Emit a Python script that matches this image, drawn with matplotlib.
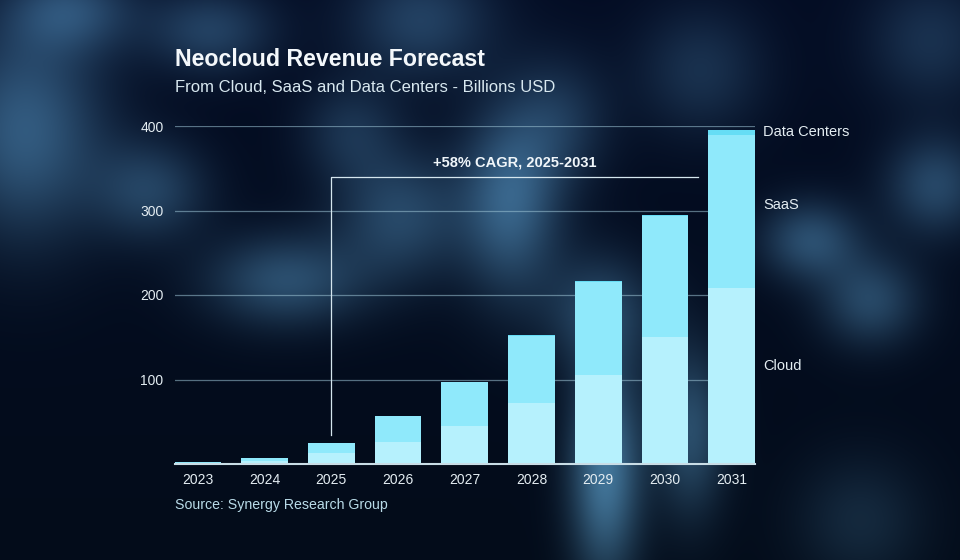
import matplotlib.pyplot as plt
import numpy as np

# ~~~~~~~~~~~~~~
# DATA
# ~~~~~~~~~~~~~~
years = ['2023', '2024', '2025', '2026', '2027', '2028', '2029', '2030', '2031']
cloud = [1.2, 4, 13, 26, 45, 72, 105, 150, 208]
saas = [0.8, 3.5, 12, 31, 51.5, 80, 110, 143, 181]
data_centers = [0, 0, 0, 0, 0, 0.5, 1, 1.5, 6]
series_names = ['Cloud', 'SaaS', 'Data Centers']
cagr_text = '+58% CAGR, 2025-2031'

# ~~~~~~~~~~~~~~
# BACKGROUND (soft blurred glow)
# ~~~~~~~~~~~~~~
W, H = 960, 560
yy, xx = np.mgrid[0:H, 0:W]
base = np.array([3, 12, 26]) / 255.0
img = np.ones((H, W, 3)) * base
img[:, :, 2] += 0.035 * (1 - yy / H)

glow = np.array([78, 130, 156]) / 255.0
# (cx, cy, sx, sy, strength)
blobs = [
    (25, 130, 55, 75, 0.6), (150, 190, 40, 35, 0.4), (210, 30, 45, 30, 0.4),
    (70, 10, 45, 30, 0.45), (420, 20, 50, 40, 0.4), (285, 280, 55, 32, 0.5),
    (400, 215, 45, 45, 0.45), (510, 200, 35, 65, 0.65), (560, 120, 35, 45, 0.3),
    (600, 310, 40, 40, 0.4), (605, 470, 25, 75, 0.8), (690, 430, 25, 60, 0.5),
    (810, 240, 35, 28, 0.5), (870, 300, 35, 32, 0.45), (935, 185, 35, 35, 0.45),
    (700, 70, 45, 45, 0.28), (930, 40, 45, 45, 0.28), (860, 520, 45, 45, 0.22),
    (350, 130, 35, 35, 0.28),
]
for cx, cy, sx, sy, a in blobs:
    g = np.exp(-((xx - cx) ** 2 / (2 * sx ** 2) + (yy - cy) ** 2 / (2 * sy ** 2)))
    img += a * g[:, :, None] * glow[None, None, :]
img = np.clip(img, 0, 1)

# ~~~~~~~~~~
# PLOTTING
# ~~~~~~~~~~
plt.rcParams['font.family'] = ['Liberation Sans', 'DejaVu Sans']

fig = plt.figure(figsize=(9.6, 5.6), dpi=100)
bg = fig.add_axes([0, 0, 1, 1])
bg.imshow(img, extent=[0, W, H, 0], aspect='auto', interpolation='bilinear')
bg.set_axis_off()

ax = fig.add_axes([174.5 / W, 1 - 464 / H, (755 - 174.5) / W, (464 - 126) / H])
ax.set_facecolor('none')

cols = ['#b6f1fd', '#8fe9fb', '#66ddf5']
x = np.arange(len(years))
width = 0.7
bottom = np.zeros(len(years))
for vals, c, name in zip([cloud, saas, data_centers], cols, series_names):
    ax.bar(x, vals, width, bottom=bottom, color=c, label=name, zorder=3, linewidth=0)
    bottom += np.array(vals)

ax.set_xlim(-0.35, len(years) - 1 + 0.35)
ax.set_ylim(0, 400)
ax.set_yticks([100, 200, 300, 400])
ax.set_xticks(x)
ax.set_xticklabels(years)
ax.yaxis.grid(True, color='#9cc3d4', alpha=0.55, linewidth=0.9, zorder=1)
ax.set_axisbelow(True)
for s in ['top', 'right', 'left']:
    ax.spines[s].set_visible(False)
ax.spines['bottom'].set_color('#c9dde6')
ax.spines['bottom'].set_linewidth(1.5)
ax.spines['bottom'].set_zorder(4)
ax.tick_params(axis='both', length=0, colors='#e4edf2', labelsize=10)
ax.tick_params(axis='y', pad=8)
ax.tick_params(axis='x', pad=6.5)

# series labels on the right, next to the 2031 bar
for name, yv in zip(series_names, [116, 306, 393]):
    ax.text(len(years) - 1 + 0.47, yv, name, color='#e4edf2', fontsize=10.5,
            va='center', ha='left', clip_on=False)

# CAGR bracket
ax.plot([2, 2, 7.5], [34, 340, 340], color='#d5e6ee', linewidth=0.9, zorder=5)
ax.text(4.75, 349, cagr_text, color='#f0f6fa', fontsize=10.5, fontweight='bold',
        ha='center', va='bottom', zorder=5)

fig.text(175 / W, 1 - 66 / H, 'Neocloud Revenue Forecast', color='#f4f8fb',
         fontsize=16.7, fontweight='bold', ha='left', va='baseline')
fig.text(175 / W, 1 - 92 / H, 'From Cloud, SaaS and Data Centers - Billions USD',
         color='#d8e8f0', fontsize=12, ha='left', va='baseline')
fig.text(175 / W, 1 - 509 / H, 'Source: Synergy Research Group', color='#b9dbe8',
         fontsize=10.2, ha='left', va='baseline')

plt.savefig('out.png', dpi=100)
